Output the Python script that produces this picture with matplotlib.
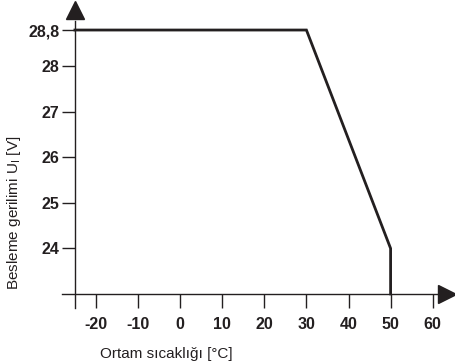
import matplotlib.pyplot as plt

plt.rcParams['font.family'] = ['Liberation Sans', 'DejaVu Sans']

# derating curve: ambient temperature vs supply voltage
temp = [-25, 30, 50, 50]
volt = [28.8, 28.8, 24, 23]

x_ticks = [-20, -10, 0, 10, 20, 30, 40, 50, 60]
y_ticks = [24, 25, 26, 27, 28, 28.8]
y_labels = ['24', '25', '26', '27', '28', '28,8']

ink = '#231f20'

fig = plt.figure(figsize=(4.55, 3.64), dpi=100)
ax = fig.add_axes([0, 0, 1, 1])
ax.patch.set_alpha(0)

# pixel -> data mapping
ax.set_xlim(-42.8, 65.3)
ax.set_ylim(21.46, 29.46)

ax.plot(temp, volt, color=ink, lw=2, solid_joinstyle='miter', clip_on=False, zorder=3)

for s in ['top', 'right']:
    ax.spines[s].set_visible(False)
ax.spines['left'].set_position(('data', -25))
ax.spines['bottom'].set_position(('data', 23))
ax.spines['left'].set_bounds(22.69, 29.0)
ax.spines['bottom'].set_bounds(-28.1, 62)
for s in ['left', 'bottom']:
    ax.spines[s].set_color(ink)
    ax.spines[s].set_linewidth(1)

# arrow heads
ax.plot([-25], [29.25], marker='^', ms=13, color=ink, clip_on=False)
ax.plot([63.4], [23], marker='>', ms=13, color=ink, clip_on=False)

ax.set_xticks(x_ticks)
ax.set_xticklabels([str(v) for v in x_ticks], fontweight='bold', fontsize=11.5)
ax.set_yticks(y_ticks)
ax.set_yticklabels(y_labels, fontweight='bold', fontsize=11.5)
ax.tick_params(axis='x', direction='out', length=10, width=1, color=ink, pad=6.5, labelcolor=ink)
ax.tick_params(axis='y', direction='out', length=9.5, width=1, color=ink, pad=1.5, labelcolor=ink)

fig.text(100 / 455, 1 - 354 / 364, 'Ortam sıcaklığı [°C]', fontsize=11, color=ink,
         ha='left', va='center')
fig.text(14 / 455, 1 - 213 / 364, 'Besleme gerilimi U$_\\mathregular{I}$ [V]', fontsize=11,
         color=ink, rotation=90, ha='center', va='center')

fig.savefig('out.png', dpi=100)
